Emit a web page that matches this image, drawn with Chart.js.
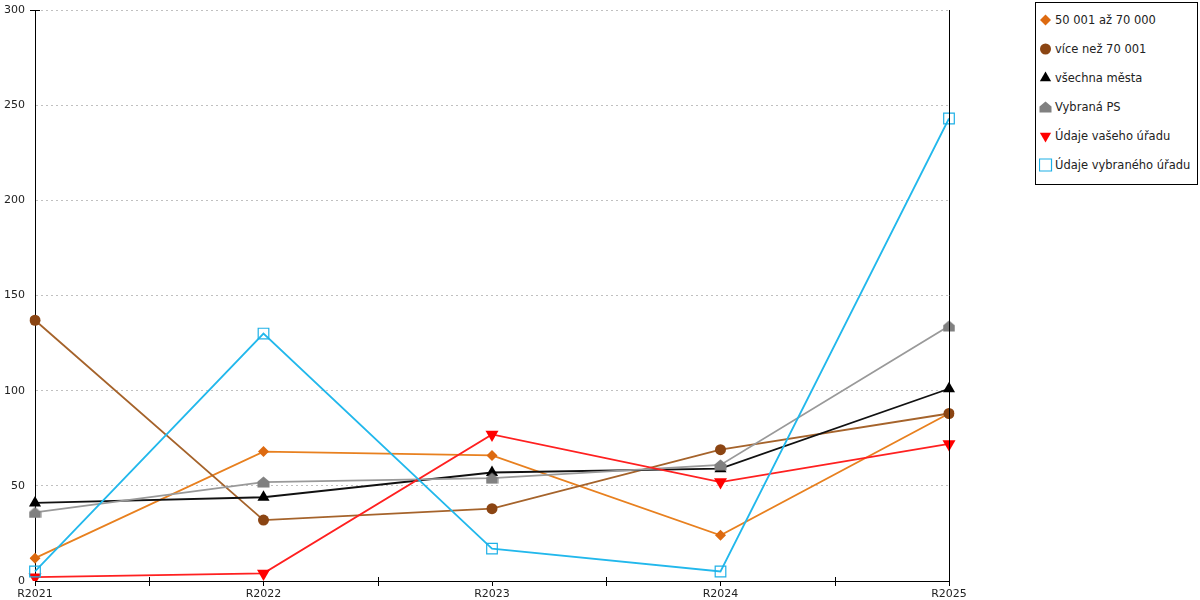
<!DOCTYPE html>
<html>
<head>
<meta charset="utf-8">
<script src="https://cdn.jsdelivr.net/npm/chart.js@4/dist/chart.umd.min.js"></script>
<style>
  body { margin: 0; background: #fff; font-family: "DejaVu Sans", sans-serif; }
  #wrap { position: relative; width: 1200px; height: 600px; }
  #legend { position: absolute; left: 1035px; top: 2px; width: 161px; height: 181px;
            border: 1px solid #000; background: #fff; }
  .item { position: absolute; left: 3px; height: 16px; font-size: 11.5px; color: #222; white-space: nowrap; }
  .item canvas { position: absolute; left: 0; top: 0; }
  .item span { position: absolute; left: 16px; top: 0; line-height: 16px; }
</style>
</head>
<body>
<div id="wrap">
  <canvas id="chart" width="1200" height="600"></canvas>
  <div id="legend"></div>
</div>
<script>
const years = ["R2021", "R2022", "R2023", "R2024", "R2025"];
const yTicks = [0, 50, 100, 150, 200, 250, 300];

const series1 = [12, 68, 66, 24, 88];     // 50 001 až 70 000
const series2 = [137, 32, 38, 69, 88];    // více než 70 001
const series3 = [41, 44, 57, 59, 101];    // všechna města
const series4 = [36, 52, 54, 61, 134];    // Vybraná PS
const series5 = [2, 4, 77, 52, 72];       // Údaje vašeho úřadu
const series6 = [5, 130, 17, 5, 243];     // Údaje vybraného úřadu

const names = ["50 001 až 70 000", "více než 70 001", "všechna města", "Vybraná PS",
               "Údaje vašeho úřadu", "Údaje vybraného úřadu"];

// gray "house" marker
const house = document.createElement("canvas");
house.width = 13; house.height = 12;
(() => {
  const c = house.getContext("2d");
  c.fillStyle = "#808080";
  c.beginPath();
  c.moveTo(6.5, 0.5); c.lineTo(12.5, 5.5); c.lineTo(12.5, 11.5); c.lineTo(0.5, 11.5); c.lineTo(0.5, 5.5);
  c.closePath(); c.fill();
})();

const styles = [
  { line: "#E8801F", point: "#DD6A10", pointStyle: "rectRot", radius: 5.5, rotation: 0, fill: true },
  { line: "#A5632B", point: "#8B4513", pointStyle: "circle", radius: 5.5, rotation: 0, fill: true },
  { line: "#111111", point: "#000000", pointStyle: "triangle", radius: 7, rotation: 0, fill: true },
  { line: "#999999", point: "#808080", pointStyle: house, radius: 6, rotation: 0, fill: true },
  { line: "#FF2020", point: "#FF0000", pointStyle: "triangle", radius: 7.5, rotation: 180, fill: true },
  { line: "#22B8EC", point: "#1EB0E6", pointStyle: "rect", radius: 7.5, rotation: 0, fill: false }
];

const values = [series1, series2, series3, series4, series5, series6];

const datasets = values.map((v, i) => ({
  label: names[i],
  data: v,
  borderColor: styles[i].line,
  borderWidth: 1.8,
  pointStyle: styles[i].pointStyle,
  pointRadius: styles[i].radius,
  pointRotation: styles[i].rotation,
  pointBackgroundColor: styles[i].fill ? styles[i].point : "rgba(0,0,0,0)",
  pointBorderColor: styles[i].point,
  pointBorderWidth: styles[i].fill ? 0 : 1.2,
  tension: 0,
  fill: false,
  order: values.length - i
}));

const extras = {
  id: "extras",
  afterDraw(chart) {
    const ctx = chart.ctx;
    const a = chart.chartArea;
    const x = chart.scales.x;
    ctx.save();
    ctx.strokeStyle = "#000";
    ctx.lineWidth = 1;
    ctx.beginPath();
    const r = Math.round(a.right) + 0.5;
    ctx.moveTo(r, a.top);
    ctx.lineTo(r, a.bottom);
    // small tick at top of y axis
    const t = Math.round(a.top) + 0.5;
    ctx.moveTo(a.left - 5, t);
    ctx.lineTo(a.left + 5, t);
    for (let i = 0; i < years.length - 1; i++) {
      const mx = Math.round((x.getPixelForValue(i) + x.getPixelForValue(i + 1)) / 2) + 0.5;
      ctx.moveTo(mx, a.bottom - 4);
      ctx.lineTo(mx, a.bottom + 5);
    }
    ctx.stroke();
    ctx.restore();
  }
};

new Chart(document.getElementById("chart"), {
  type: "line",
  data: { labels: years, datasets: datasets },
  options: {
    responsive: false,
    animation: false,
    layout: { autoPadding: false, padding: { top: 10, right: 251, left: 0, bottom: 0 } },
    plugins: { legend: { display: false }, tooltip: { enabled: false } },
    scales: {
      x: {
        offset: false,
        grid: { drawOnChartArea: false, color: "#000", tickLength: 5 },
        border: { display: true, color: "#000", width: 1 },
        ticks: { color: "#222", font: { family: "DejaVu Sans", size: 11 }, padding: 2, maxRotation: 0, autoSkip: false },
        afterFit(s) { s.height = 19; }
      },
      y: {
        min: 0,
        max: 300,
        afterBuildTicks(s) { s.ticks = yTicks.map(v => ({ value: v })); },
        grid: { color: "#c0c0c0", drawTicks: false, lineWidth: 1 },
        border: { display: true, color: "#000", width: 1, dash: [2, 3] },
        ticks: { color: "#222", font: { family: "DejaVu Sans", size: 11 }, padding: 10 },
        afterFit(s) { s.width = 35; s.paddingTop = 0; s.paddingBottom = 0; }
      }
    }
  },
  plugins: [extras]
});

// legend
const legend = document.getElementById("legend");
names.forEach((n, i) => {
  const item = document.createElement("div");
  item.className = "item";
  item.style.top = (9 + i * 29) + "px";
  const c = document.createElement("canvas");
  c.width = 14; c.height = 16;
  const ctx = c.getContext("2d");
  const st = styles[i];
  ctx.fillStyle = st.fill ? st.point : "rgba(0,0,0,0)";
  ctx.strokeStyle = st.point;
  ctx.lineWidth = st.fill ? 0 : 1.2;
  Chart.helpers.drawPoint(ctx, {
    pointStyle: st.pointStyle, radius: i === 5 ? 8.5 : Math.min(st.radius, 6.5), rotation: st.rotation,
    borderWidth: st.fill ? 0 : 1.2
  }, 6.5, 8);
  item.appendChild(c);
  const s = document.createElement("span");
  s.textContent = n;
  item.appendChild(s);
  legend.appendChild(item);
});
</script>
</body>
</html>
